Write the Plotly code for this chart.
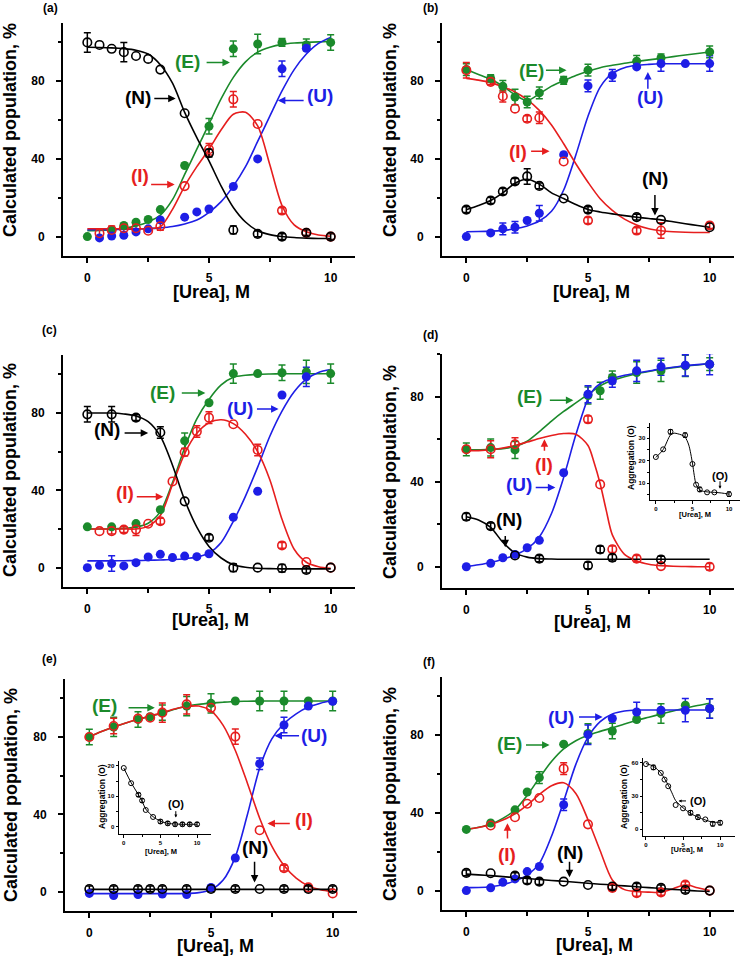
import plotly.graph_objects as go

GREEN = "#1b8a2b"
RED = "#e61e1e"
BLUE = "#1e1ee6"
BLACK = "#000000"
FONT = "Liberation Sans, Arial, sans-serif"

# ---------------- Panel (a) ----------------
A_N_X = [0, 0.5, 1, 1.5, 2, 2.5, 3, 4, 5, 6, 7, 8, 9, 10]
A_N_Y = [100, 98.7, 96.7, 95, 93, 91.5, 86, 63.5, 43, 3.4, 1.4, 0, 2, 0]
A_N_ERR = [5, 0, 0, 5, 0, 0, 0, 0, 2, 2, 1.5, 1.5, 1.5, 1.5]
A_E_X = [0, 1, 1.5, 2, 2.5, 3, 4, 5, 6, 7, 8, 9, 10]
A_E_Y = [0, 3.4, 5.7, 7.4, 8.8, 13.9, 36.6, 56.8, 96.7, 99.2, 100, 98.7, 100]
A_E_ERR = [0, 0, 0, 0, 0, 0, 0, 4, 4, 5, 2, 3, 4]
A_I_X = [0.5, 1, 1.5, 2, 2.5, 3, 4, 5, 6, 7, 8, 9, 10]
A_I_Y = [1.7, 3.4, 4.3, 4.3, 3, 5.3, 26, 45, 70.7, 58, 13.4, 2, 0]
A_I_ERR = [2, 2, 2, 2, 0, 2, 0, 3, 4, 0, 1.5, 1.5, 0]
A_U_X = [0.5, 1, 1.5, 2, 2.5, 3, 4, 4.5, 5, 6, 7, 8, 9]
A_U_Y = [-0.7, 0.3, 0.7, 2.4, 4, 8.6, 10, 12.7, 14.2, 25.8, 40, 86.4, 97]
A_U_ERR = [0, 0, 0, 0, 0, 0, 0, 0, 0, 0, 0, 4, 0]
A_FIT_X = [0, 0.5, 1, 1.5, 2, 2.5, 3, 3.5, 4, 4.5, 5, 5.5, 6, 6.5, 7, 7.5, 8, 8.5, 9, 9.5, 10]
A_FIT_N = [97.5, 97.4, 97.2, 96.8, 96, 94, 88.5, 79, 64, 51, 39, 26, 15, 7.5, 3, 1, 0, -0.5, -0.8, -1, -1]
A_FIT_E = [3, 3.2, 3.6, 4.3, 5.5, 7.5, 11, 19, 32, 45, 58, 71, 82, 90, 95, 97.5, 99, 99.7, 100, 100.3, 100.5]
A_FIT_I = [4, 4, 4, 4, 4, 4.2, 5, 14, 26, 36, 45, 55, 63, 64, 57, 37, 16, 6, 2.5, 0.8, 0.2]
A_FIT_U = [3.5, 3.5, 3.6, 3.7, 3.9, 4.1, 4.5, 5.2, 6.5, 8.5, 12.5, 18, 26, 36, 49, 62, 75, 86, 94, 99.5, 102.5]

# ---------------- Panel (b) ----------------
B_N_X = [0, 1, 1.5, 2, 2.5, 3, 4, 5, 7, 8, 10]
B_N_Y = [13.9, 18.6, 23.2, 28.4, 31, 26.1, 19.6, 13.9, 10, 8.6, 4.8]
B_N_ERR = [1.5, 1.5, 1.5, 1.5, 4, 1.5, 0, 1.5, 1.5, 0, 0]
B_E_X = [0, 1, 1.5, 2, 2.5, 3, 4, 5, 7, 8, 10]
B_E_Y = [86, 81.4, 77.4, 71.9, 69.3, 74, 80.5, 85.7, 90.3, 92, 95.1]
B_E_ERR = [3, 2, 3, 4, 3, 3, 2, 3, 3, 2, 3]
B_I_X = [0, 1, 1.5, 2, 2.5, 3, 4, 5, 7, 8, 10]
B_I_Y = [85.7, 79.7, 72.3, 65.9, 60.7, 61.2, 38.7, 8.3, 3.1, 3.1, 5.7]
B_I_ERR = [4, 1.5, 3, 0, 1.5, 3, 0, 1.5, 1.5, 4, 1.5]
B_U_X = [0, 1, 1.5, 2, 2.5, 3, 4, 5, 6, 7, 8, 9, 10]
B_U_Y = [0, 1.9, 4, 4.8, 8.3, 12, 42.2, 77.6, 83, 87.4, 89.1, 89.1, 89.1]
B_U_ERR = [0, 0, 3, 3, 0, 4, 0, 3, 3, 0, 4, 0, 4]
B_FIT_X = [0, 0.5, 1, 1.5, 2, 2.5, 3, 3.5, 4, 4.5, 5, 5.5, 6, 6.5, 7, 7.5, 8, 8.5, 9, 9.5, 10]
B_FIT_N = [13.8, 16, 18.6, 22.5, 27.5, 29.5, 27, 22.5, 19.6, 16.5, 14, 12.7, 11.7, 10.8, 10, 9.3, 8.6, 7.6, 6.6, 5.7, 4.8]
B_FIT_E = [86, 83.5, 81, 77.5, 73, 70, 73.5, 77.5, 80.3, 83, 85.2, 87, 88.2, 89.3, 90.2, 91, 91.8, 92.7, 93.5, 94.3, 95.1]
B_FIT_I = [81.5, 80.6, 79.3, 77.2, 74.5, 70.5, 65, 57.5, 47.8, 37.5, 28, 19.5, 13.5, 9, 6, 4, 3, 2.5, 2.2, 2.1, 2.1]
B_FIT_U = [2.5, 2.6, 2.8, 3.2, 4, 5.5, 8, 13, 24, 42, 62, 77, 84, 87, 88.2, 88.7, 89, 89, 89, 89, 89]

# ---------------- Panel (c) ----------------
C_N_X = [0, 1, 2, 3, 4, 5, 6, 7, 8, 9, 10]
C_N_Y = [79.3, 79.3, 77.6, 69.9, 34.3, 15.5, 0, 0, -0.3, -1.2, 0]
C_N_ERR = [4, 4, 1.5, 3, 0, 1.5, 2, 0, 2, 1.5, 0]
C_E_X = [0, 1, 2, 3, 4, 5, 6, 7, 8, 9, 10]
C_E_Y = [21.1, 21.1, 22.8, 30, 65.6, 85.3, 100.4, 100.4, 100.8, 101.3, 100.4]
C_E_ERR = [0, 0, 0, 0, 4, 0, 5, 0, 4, 6, 5]
C_I_X = [0.5, 1, 1.5, 2, 2.5, 3, 3.5, 4, 4.5, 5, 6, 7, 8, 9, 10]
C_I_Y = [18.9, 18.9, 19.7, 19.7, 22.7, 24, 44.6, 59.7, 70.4, 77.6, 74.2, 60.9, 11.5, 2.9, 0]
C_I_ERR = [0, 1.5, 1.5, 3, 0, 1.5, 0, 2, 3, 3, 0, 3, 1.5, 0, 0]
C_U_X = [0, 0.5, 1, 1.5, 2, 2.5, 3, 3.5, 4, 4.5, 5, 6, 7, 8, 9]
C_U_Y = [0, 1.2, 2.1, 0.9, 2.6, 5.5, 6.9, 5.2, 6, 5.7, 7.2, 26.1, 39.5, 89.3, 98.7]
C_U_ERR = [0, 0, 4, 0, 0, 0, 0, 0, 0, 0, 0, 0, 0, 0, 5]
C_FIT_X = [0, 0.5, 1, 1.5, 2, 2.5, 3, 3.5, 4, 4.5, 5, 5.5, 6, 6.5, 7, 7.5, 8, 8.5, 9, 9.5, 10]
C_FIT_N = [80, 80, 80, 79.5, 78.5, 75.5, 68, 53, 35, 21, 11, 5, 1.5, 0.2, -0.3, -0.5, -0.6, -0.6, -0.6, -0.6, -0.6]
C_FIT_E = [20, 20, 20, 20.3, 21, 23, 29, 44, 62, 77, 87, 94.5, 98.5, 99.5, 100, 100.2, 100.3, 100.3, 100.3, 100.3, 100.3]
C_FIT_I = [20, 20, 20, 20, 20, 21.5, 27, 43, 59, 69.5, 75, 76.5, 74.5, 69, 60, 45.5, 25, 9.5, 2.8, 0.5, -0.3]
C_FIT_U = [3.5, 3.5, 3.5, 3.6, 3.7, 3.8, 4, 4.2, 4.6, 5.5, 7.5, 13, 24, 37, 52, 68, 81, 91, 97.5, 101, 102.5]

# ---------------- Panel (d) ----------------
D_N_X = [0, 1, 2, 3, 5, 5.5, 6, 8]
D_N_Y = [23.5, 19.1, 5.3, 3.8, 0.6, 8.1, 4.2, 3.4]
D_N_ERR = [1.5, 1.5, 0, 1.5, 1.5, 1.5, 1.5, 1.5]
D_E_X = [0, 1, 2, 5, 5.5, 6, 7, 8, 9, 10]
D_E_Y = [55.2, 56, 54.9, 80.5, 82.7, 89, 91.3, 92.1, 94.4, 95.2]
D_E_ERR = [3, 4, 4, 4, 4, 3, 5, 5, 5, 3]
D_I_X = [0, 1, 2, 5, 5.5, 6, 7, 8, 10]
D_I_Y = [55.2, 55.2, 57.6, 69.3, 38.7, 8.2, 3.8, 0.3, 0]
D_I_ERR = [0, 4, 3, 1.5, 0, 1.5, 1.5, 0, 1.5]
D_U_X = [0, 1, 1.5, 2, 2.5, 3, 4, 5, 6, 7, 8, 9, 10]
D_U_Y = [0, 1.6, 4.2, 5.8, 8.9, 12.4, 44.2, 81.1, 87.4, 92.1, 94, 94.7, 95.2]
D_U_ERR = [0, 0, 0, 0, 0, 0, 0, 4, 3, 5, 4, 5, 5]
D_FIT_X = [0, 0.5, 1, 1.5, 2, 2.5, 3, 3.5, 4, 4.5, 5, 5.25, 5.5, 5.75, 6, 6.5, 7, 7.5, 8, 8.5, 9, 9.5, 10]
D_FIT_N = [23.5, 22, 18.5, 11.5, 6.5, 4.5, 3.8, 3.6, 3.5, 3.5, 3.5, 3.5, 3.5, 3.5, 3.5, 3.5, 3.5, 3.5, 3.5, 3.5, 3.5, 3.5, 3.5]
D_FIT_E = [55, 55, 55.2, 55.5, 56.5, 59, 63.5, 68.5, 73, 77, 81, 83, 85, 86.5, 87.6, 89.3, 90.7, 91.8, 92.8, 93.6, 94.3, 94.9, 95.4]
D_FIT_I = [54.5, 54.6, 55, 55.8, 57, 58.6, 60.3, 61.7, 62.6, 62.3, 57, 49, 39, 26.5, 15, 5.8, 2.7, 1.2, 0.5, 0.2, 0.1, 0, 0]
D_FIT_U = [0, 0.9, 2, 3.5, 5.5, 8.5, 14, 25, 42, 62, 79, 83.5, 86, 87.5, 88.5, 90, 91, 92, 93, 93.8, 94.5, 95, 95.5]

# ---------------- Panel (e) ----------------
E_N_X = [0, 1, 2, 2.5, 3, 4, 5, 6, 7, 8, 9, 10]
E_N_Y = [1.4, 1.4, 1.4, 1.4, 1.4, 1.4, 1.4, 1.4, 1.4, 1.4, 1.4, 1.4]
E_N_ERR = [1.5, 1.5, 1.5, 1.5, 1.5, 1.5, 1.5, 1.5, 0, 1.5, 1.5, 1.5]
E_E_X = [0, 1, 2, 2.5, 3, 4, 5, 6, 7, 8, 9, 10]
E_E_Y = [80, 85.2, 89.1, 90.5, 92.6, 96, 97.4, 98.6, 98.6, 98.6, 98.6, 98.6]
E_E_ERR = [4, 5, 4, 0, 4, 5, 5, 0, 5, 5, 0, 5]
E_I_X = [0, 1, 2, 2.5, 3, 4, 5, 6, 7, 8, 9, 10]
E_I_Y = [80, 85.7, 89.5, 90, 92.6, 96.9, 95.1, 80.2, 31.8, 12.2, 2.2, -0.9]
E_I_ERR = [0, 4, 0, 0, 5, 5, 0, 4, 0, 1.5, 0, 0]
E_U_X = [0, 1, 2, 3, 4, 5, 6, 7, 8, 9, 10]
E_U_Y = [-0.9, -2, -1.5, -1.2, -1.5, 2.2, 17.4, 66.2, 86.2, 96, 98.5]
E_U_ERR = [0, 0, 0, 0, 0, 0, 0, 3, 4, 0, 0]
E_FIT_X = [0, 0.5, 1, 1.5, 2, 2.5, 3, 3.5, 4, 4.5, 5, 5.5, 6, 6.5, 7, 7.5, 8, 8.5, 9, 9.5, 10]
E_FIT_N = [1.2, 1.2, 1.2, 1.2, 1.2, 1.2, 1.2, 1.2, 1.2, 1.2, 1.2, 1.2, 1.2, 1.2, 1.2, 1.2, 1.2, 1.2, 1.2, 1.2, 1.2]
E_FIT_E = [80, 82.8, 85.2, 87.3, 89.1, 90.7, 92.4, 94.3, 96, 96.9, 97.5, 98, 98.4, 98.5, 98.6, 98.6, 98.6, 98.6, 98.6, 98.6, 98.6]
E_FIT_I = [80, 82.8, 85.2, 87.3, 89.2, 90.8, 92.6, 94.5, 95.8, 96, 93.5, 86, 73, 56, 38, 23.5, 13.5, 7, 3, 1, 0]
E_FIT_U = [-1, -1, -1, -1, -1, -1, -1, -1, -0.9, -0.5, 1, 6, 18, 40, 64, 79, 87, 92, 95.5, 97.5, 99]

# ---------------- Panel (f) ----------------
F_N_X = [0, 1, 2, 2.5, 3, 4, 5, 6, 7, 8, 9, 10]
F_N_Y = [9.1, 8.9, 7.7, 5.2, 4.6, 4.6, 2.9, 2.1, 2.1, 1.4, 0.3, 0]
F_N_ERR = [1.5, 0, 1.5, 1.5, 1.5, 0, 0, 1.5, 1.5, 1.5, 1.5, 0]
F_E_X = [0, 1, 2, 2.5, 3, 4, 5, 6, 7, 8, 9, 10]
F_E_Y = [31.5, 34.8, 41.6, 50.8, 58.2, 75.4, 80.9, 82.2, 88.1, 91.2, 95.5, 93.8]
F_E_ERR = [0, 0, 0, 0, 3, 0, 5, 4, 0, 5, 0, 5]
F_I_X = [1, 2, 2.5, 3, 4, 5, 6, 7, 8, 9, 10]
F_I_Y = [33.5, 37.8, 44.7, 47.7, 62.8, 34.1, 1.4, -1.4, -0.9, 3.1, 0]
F_I_ERR = [0, 0, 0, 0, 3, 0, 1.5, 1.5, 1.5, 1.5, 0]
F_U_X = [0, 1, 1.5, 2, 2.5, 3, 4, 5, 6, 7, 8, 9, 10]
F_U_Y = [0, 1.4, 4.3, 6, 9.8, 12.4, 44.2, 80.3, 88.6, 92, 92.9, 92.9, 93.8]
F_U_ERR = [0, 0, 0, 0, 0, 0, 3, 5, 0, 5, 0, 6, 5]
F_FIT_X = [0, 0.5, 1, 1.5, 2, 2.5, 3, 3.5, 4, 4.5, 5, 5.5, 6, 6.5, 7, 7.5, 8, 8.5, 9, 9.5, 10]
F_FIT_N = [8.5, 8.1, 7.7, 7.2, 6.7, 6.2, 5.7, 5.2, 4.8, 4.3, 3.8, 3.3, 2.9, 2.4, 2, 1.5, 1.1, 0.6, 0.2, -0.2, -0.5]
F_FIT_E = [31.5, 32.6, 34.2, 37.2, 41.5, 49, 58, 66.5, 73, 77.2, 80, 82, 83.8, 85.8, 87.7, 89.3, 90.9, 92.5, 94, 95.3, 96.5]
F_FIT_I = [31.5, 32.5, 34, 36.3, 39.5, 44, 49.5, 54, 55.5, 50, 36.5, 20.5, 5.5, 0.5, -0.5, -0.8, -0.9, 1, 3, 1.5, 0]
F_FIT_U = [1.5, 1.6, 2, 3, 5, 8, 14, 28, 46, 65, 79, 87, 91, 92.5, 93, 93, 93, 93, 93, 93, 93]

# ---------------- Insets: Aggregation (O) ----------------
D_INS_X = [0, 1, 2, 4, 5, 5.5, 6, 7, 8, 10]
D_INS_Y = [21.7, 25.1, 32.9, 31.4, 18.6, 9.4, 7.3, 6, 6, 5.2]
D_INS_ERR = [0, 0, 1, 1, 0, 0, 1, 0, 0, 1]
D_INS_FIT_X = [0, 1, 2, 2.5, 3, 3.5, 4, 4.5, 5, 5.25, 5.5, 6, 7, 8, 9, 10]
D_INS_FIT_Y = [21.5, 25, 31.5, 32.3, 32, 31.5, 30.5, 27, 19, 13.5, 9.5, 7, 6.2, 6, 5.7, 5.2]

E_INS_X = [0, 1, 2, 2.5, 3, 4, 5, 6, 7, 8, 9, 10]
E_INS_Y = [19.3, 14.3, 10.5, 8.6, 5.5, 3.2, 1.7, 1.1, 0.8, 0.8, 0.8, 0.8]
E_INS_ERR = [0, 0, 0.6, 0.6, 0, 0, 0.6, 0.6, 0.6, 0.6, 0.6, 0.6]
E_INS_FIT_X = [0, 1, 2, 2.5, 3, 4, 5, 6, 7, 8, 9, 10]
E_INS_FIT_Y = [19.3, 14.5, 10.5, 8.4, 5.8, 3.3, 1.8, 1.1, 0.9, 0.8, 0.8, 0.8]

F_INS_X = [0, 1, 2, 2.5, 3, 4, 5, 6, 7, 8, 9, 10]
F_INS_Y = [59, 56, 51, 45, 39, 22, 19, 15, 11, 9, 5, 6]
F_INS_ERR = [0, 2, 0, 0, 0, 0, 0, 2, 2, 0, 2, 2]
F_INS_FIT_X = [0, 1, 2, 3, 3.5, 4, 5, 6, 7, 8, 9, 10]
F_INS_FIT_Y = [59.5, 57, 51, 40, 33, 26, 19.5, 14.5, 11, 8.5, 6.5, 6.5]

W, H = 745, 957


def px_x(p):
    return p / W


def px_y(p):
    return 1 - p / H


fig = go.Figure()


def add_series(ax, x, y, err, color, fit_x=None, fit_y=None, lw=1.6, inset=False):
    xa, ya = "x%d" % ax, "y%d" % ax
    if fit_x is not None:
        fig.add_trace(go.Scatter(x=fit_x, y=fit_y, mode="lines", xaxis=xa, yaxis=ya,
                                 line=dict(color=color, width=lw, shape="spline", smoothing=0.8),
                                 hoverinfo="skip"))
    ex = [xi for xi, e in zip(x, err) if e > 0]
    ey = [yi for yi, e in zip(y, err) if e > 0]
    ee = [e for e in err if e > 0]
    if ee:
        fig.add_trace(go.Scatter(x=ex, y=ey, mode="markers", xaxis=xa, yaxis=ya,
                                 marker=dict(size=1, color="rgba(0,0,0,0)"),
                                 error_y=dict(type="data", array=ee, visible=True, color=color,
                                              thickness=1 if inset else 1.5, width=2 if inset else 3.5),
                                 hoverinfo="skip"))


def add_markers(ax, x, y, color, filled, size=9, inset=False):
    xa, ya = "x%d" % ax, "y%d" % ax
    if filled:
        m = dict(symbol="circle", size=size, color=color, line=dict(width=0))
    else:
        m = dict(symbol="circle-open", size=size if inset else size - 0.5, color=color,
                 line=dict(width=1 if inset else 1.6, color=color))
    fig.add_trace(go.Scatter(x=x, y=y, mode="markers", xaxis=xa, yaxis=ya, marker=m))


PANELS = [
    (1, [A_N_X, A_N_Y, A_N_ERR, A_FIT_X, A_FIT_N], [A_E_X, A_E_Y, A_E_ERR, A_FIT_X, A_FIT_E],
        [A_I_X, A_I_Y, A_I_ERR, A_FIT_X, A_FIT_I], [A_U_X, A_U_Y, A_U_ERR, A_FIT_X, A_FIT_U]),
    (2, [B_N_X, B_N_Y, B_N_ERR, B_FIT_X, B_FIT_N], [B_E_X, B_E_Y, B_E_ERR, B_FIT_X, B_FIT_E],
        [B_I_X, B_I_Y, B_I_ERR, B_FIT_X, B_FIT_I], [B_U_X, B_U_Y, B_U_ERR, B_FIT_X, B_FIT_U]),
    (3, [C_N_X, C_N_Y, C_N_ERR, C_FIT_X, C_FIT_N], [C_E_X, C_E_Y, C_E_ERR, C_FIT_X, C_FIT_E],
        [C_I_X, C_I_Y, C_I_ERR, C_FIT_X, C_FIT_I], [C_U_X, C_U_Y, C_U_ERR, C_FIT_X, C_FIT_U]),
    (4, [D_N_X, D_N_Y, D_N_ERR, D_FIT_X, D_FIT_N], [D_E_X, D_E_Y, D_E_ERR, D_FIT_X, D_FIT_E],
        [D_I_X, D_I_Y, D_I_ERR, D_FIT_X, D_FIT_I], [D_U_X, D_U_Y, D_U_ERR, D_FIT_X, D_FIT_U]),
    (5, [E_N_X, E_N_Y, E_N_ERR, E_FIT_X, E_FIT_N], [E_E_X, E_E_Y, E_E_ERR, E_FIT_X, E_FIT_E],
        [E_I_X, E_I_Y, E_I_ERR, E_FIT_X, E_FIT_I], [E_U_X, E_U_Y, E_U_ERR, E_FIT_X, E_FIT_U]),
    (6, [F_N_X, F_N_Y, F_N_ERR, F_FIT_X, F_FIT_N], [F_E_X, F_E_Y, F_E_ERR, F_FIT_X, F_FIT_E],
        [F_I_X, F_I_Y, F_I_ERR, F_FIT_X, F_FIT_I], [F_U_X, F_U_Y, F_U_ERR, F_FIT_X, F_FIT_U]),
]

for ax, N, E, I, U in PANELS:
    series = [(E, GREEN, True), (U, BLUE, True), (I, RED, False), (N, BLACK, False)]
    for s, c, f in series:
        add_series(ax, s[0], s[1], s[2], c, s[3], s[4])
    for s, c, f in series:
        add_markers(ax, s[0], s[1], c, f)

for ax, xs, ys, es, fx, fy in [(7, D_INS_X, D_INS_Y, D_INS_ERR, D_INS_FIT_X, D_INS_FIT_Y),
                                (8, E_INS_X, E_INS_Y, E_INS_ERR, E_INS_FIT_X, E_INS_FIT_Y),
                                (9, F_INS_X, F_INS_Y, F_INS_ERR, F_INS_FIT_X, F_INS_FIT_Y)]:
    add_series(ax, xs, ys, es, BLACK, fx, fy, lw=1, inset=True)
    add_markers(ax, xs, ys, BLACK, False, size=5, inset=True)

# ---------------- axes ----------------
# (xpx0, xpx1, ypx_top, ypx_bottom, xrange, yrange, ydtick, yminor) in window pixels
AXES = {
    1: (63, 355, 23, 256, [-1, 11], [-10, 110], 40, 20),
    2: (442, 734, 23, 256, [-1, 11], [-10, 110], 40, 20),
    3: (63, 355, 355, 587, [-1, 11], [-10, 110], 40, 20),
    4: (442, 734, 354, 588, [-1, 11], [-10, 100], 40, 20),
    5: (65, 357, 679, 911, [-1, 11], [-10, 110], 40, 20),
    6: (442, 734, 677, 910, [-1, 11], [-10, 110], 40, 20),
    7: (650, 740, 423, 500, [-0.8, 11.5], [2.6, 36.8], 10, 5),
    8: (119, 211, 761, 834, [-0.65, 11.9], [-2.4, 21.6], 10, 5),
    9: (643, 735, 758, 836, [-0.4, 12], [-6, 64.5], 30, 15),
}

layout = dict(width=W, height=H, margin=dict(l=0, r=0, t=0, b=0), showlegend=False,
              plot_bgcolor="white", paper_bgcolor="white",
              font=dict(family=FONT, color="black"))

for ax, (x0, x1, yt, yb, xr, yr, ydt, ymin) in AXES.items():
    inset = ax >= 7
    fs = 6 if inset else 12
    tl = 2.5 if inset else 5
    lw = 1 if inset else 2
    common = dict(showline=True, linecolor="black", linewidth=lw, ticks="outside", ticklen=tl,
                  tickwidth=1 if inset else 1.5, tickcolor="black", showgrid=False, zeroline=False,
                  tickfont=dict(family=FONT, size=fs, color="black", weight="bold"), fixedrange=True)
    xa = dict(common, domain=[px_x(x0), px_x(x1)], range=xr, anchor="y%d" % ax, tick0=0, dtick=5,
              minor=dict(dtick=2.5, ticklen=tl * 0.7, tickwidth=1 if inset else 1.5, tickcolor="black",
                         ticks="outside", showgrid=False),
              ticklabelstandoff=0 if inset else 5)
    ya = dict(common, domain=[px_y(yb), px_y(yt)], range=yr, anchor="x%d" % ax, tick0=0, dtick=ydt,
              minor=dict(dtick=ymin, ticklen=tl * 0.7, tickwidth=1 if inset else 1.5, tickcolor="black",
                         ticks="outside", showgrid=False),
              ticklabelstandoff=0 if inset else 9)
    key = "" if ax == 1 else str(ax)
    layout["xaxis" + key] = xa
    layout["yaxis" + key] = ya

fig.update_layout(**layout)

ann = []


def text_px(x, y, s, size, color="black", angle=0):
    ann.append(dict(x=px_x(x), y=px_y(y), xref="paper", yref="paper", text=s, showarrow=False,
                    textangle=angle, xanchor="center", yanchor="middle",
                    font=dict(family=FONT, size=size, color=color, weight="bold")))


# panel letters
for s, x, y in [("(a)", 50, 8), ("(b)", 430, 8), ("(c)", 49, 330), ("(d)", 430, 335), ("(e)", 49, 659), ("(f)", 429, 662)]:
    text_px(x, y, s, 12)

# axis titles
for x, y in [(10, 130), (390, 130), (10, 470), (390, 472), (11, 795), (390, 794)]:
    text_px(x, y, "Calculated population, %", 18, angle=-90)
for x, y in [(211, 292), (591, 292), (210, 620), (592, 622), (215, 946), (594, 945)]:
    text_px(x, y, "[Urea], M", 18)
# inset titles
for x, y in [(631, 458), (102, 797), (624, 797)]:
    text_px(x, y, "Aggregation (O)", 8.5, angle=-90)
for x, y in [(695, 514), (161, 851), (687, 849)]:
    text_px(x, y, "[Urea], M", 7.5)


def label(ax, x, y, s, color, size=19):
    ann.append(dict(x=x, y=y, xref="x%d" % ax, yref="y%d" % ax, text=s, showarrow=False,
                    xanchor="center", yanchor="middle",
                    font=dict(family=FONT, size=size, color=color, weight="bold")))


def arrow(ax, tx, ty, hx, hy, color, w=1.5, size=1.0):
    ann.append(dict(x=hx, y=hy, ax=tx, ay=ty, xref="x%d" % ax, yref="y%d" % ax,
                    axref="x%d" % ax, ayref="y%d" % ax, text="", showarrow=True,
                    arrowhead=2, arrowsize=size, arrowwidth=w, arrowcolor=color))


# (a)
label(1, 4.13, 90.2, "(E)", GREEN); arrow(1, 4.84, 89.6, 5.86, 89.6, GREEN)
label(1, 2.07, 71.6, "(N)", BLACK); arrow(1, 2.69, 71.1, 3.63, 71.1, BLACK)
label(1, 9.56, 72.6, "(U)", BLUE); arrow(1, 8.95, 70.1, 7.83, 70.1, BLUE)
label(1, 2.15, 31.4, "(I)", RED); arrow(1, 2.56, 26.8, 3.59, 26.8, RED)
# (b)
label(2, 2.68, 85.7, "(E)", GREEN); arrow(2, 3.21, 85.7, 4.12, 85.7, GREEN)
label(2, 7.54, 71.8, "(U)", BLUE); arrow(2, 7.46, 75.4, 7.46, 84.7, BLUE)
label(2, 2.14, 43.9, "(I)", RED); arrow(2, 2.6, 43.9, 3.42, 43.9, RED)
label(2, 7.75, 29.9, "(N)", BLACK); arrow(2, 7.75, 22.2, 7.75, 10.8, BLACK)
# (c)
label(3, 3.08, 90.4, "(E)", GREEN); arrow(3, 3.82, 90.4, 4.85, 90.4, GREEN)
label(3, 6.29, 82.1, "(U)", BLUE); arrow(3, 6.91, 82.1, 7.86, 82.1, BLUE)
label(3, 0.81, 71.3, "(N)", BLACK); arrow(3, 1.47, 69.7, 2.5, 69.7, BLACK)
label(3, 1.55, 38.8, "(I)", RED); arrow(3, 1.97, 36.7, 3.12, 36.7, RED)
# (d)
label(4, 2.59, 80.1, "(E)", GREEN); arrow(4, 3.37, 78.3, 4.4, 78.3, GREEN)
label(4, 3.21, 48.1, "(I)", RED); arrow(4, 3.21, 53.8, 3.21, 59.9, RED)
label(4, 2.18, 38.7, "(U)", BLUE); arrow(4, 2.79, 37.3, 3.66, 37.3, BLUE)
label(4, 1.77, 22.3, "(N)", BLACK); arrow(4, 1.6, 15.2, 1.6, 9.1, BLACK)
# (e)
label(5, 0.64, 96.2, "(E)", GREEN); arrow(5, 1.55, 95.1, 2.69, 95.1, GREEN)
label(5, 9.25, 80.7, "(U)", BLUE); arrow(5, 8.68, 80.7, 7.61, 80.7, BLUE)
label(5, 8.84, 37.3, "(I)", RED); arrow(5, 8.3, 35.3, 7.32, 35.3, RED)
label(5, 6.79, 22.9, "(N)", BLACK); arrow(5, 6.79, 16.2, 6.79, 4.8, BLACK)
# (f)
label(6, 3.87, 89.4, "(U)", BLUE); arrow(6, 4.57, 89.4, 5.6, 89.4, BLUE)
label(6, 1.77, 75.5, "(E)", GREEN); arrow(6, 2.39, 75.0, 3.42, 75.0, GREEN)
label(6, 1.69, 18.7, "(I)", RED); arrow(6, 1.69, 26.0, 1.69, 34.7, RED)
label(6, 4.24, 19.7, "(N)", BLACK); arrow(6, 4.24, 15.6, 4.24, 6.9, BLACK)
# insets
label(7, 8.77, 13.4, "(O)", BLACK, size=11); arrow(7, 8.77, 11.6, 8.77, 7.6, BLACK, w=1, size=0.6)
label(8, 7.1, 7.4, "(O)", BLACK, size=11); arrow(8, 7.1, 5.6, 7.1, 3.0, BLACK, w=1, size=0.6)
label(9, 6.95, 25.7, "(O)", BLACK, size=11); arrow(9, 5.6, 25.7, 4.4, 25.7, BLACK, w=1, size=0.6)

fig.update_layout(annotations=ann)
# remove the browser's default 8px body margin so the figure fills the window exactly
fig.write_html("out.html", config={"displayModeBar": False},
               post_script="document.body.style.margin='0';document.body.style.padding='0';")
